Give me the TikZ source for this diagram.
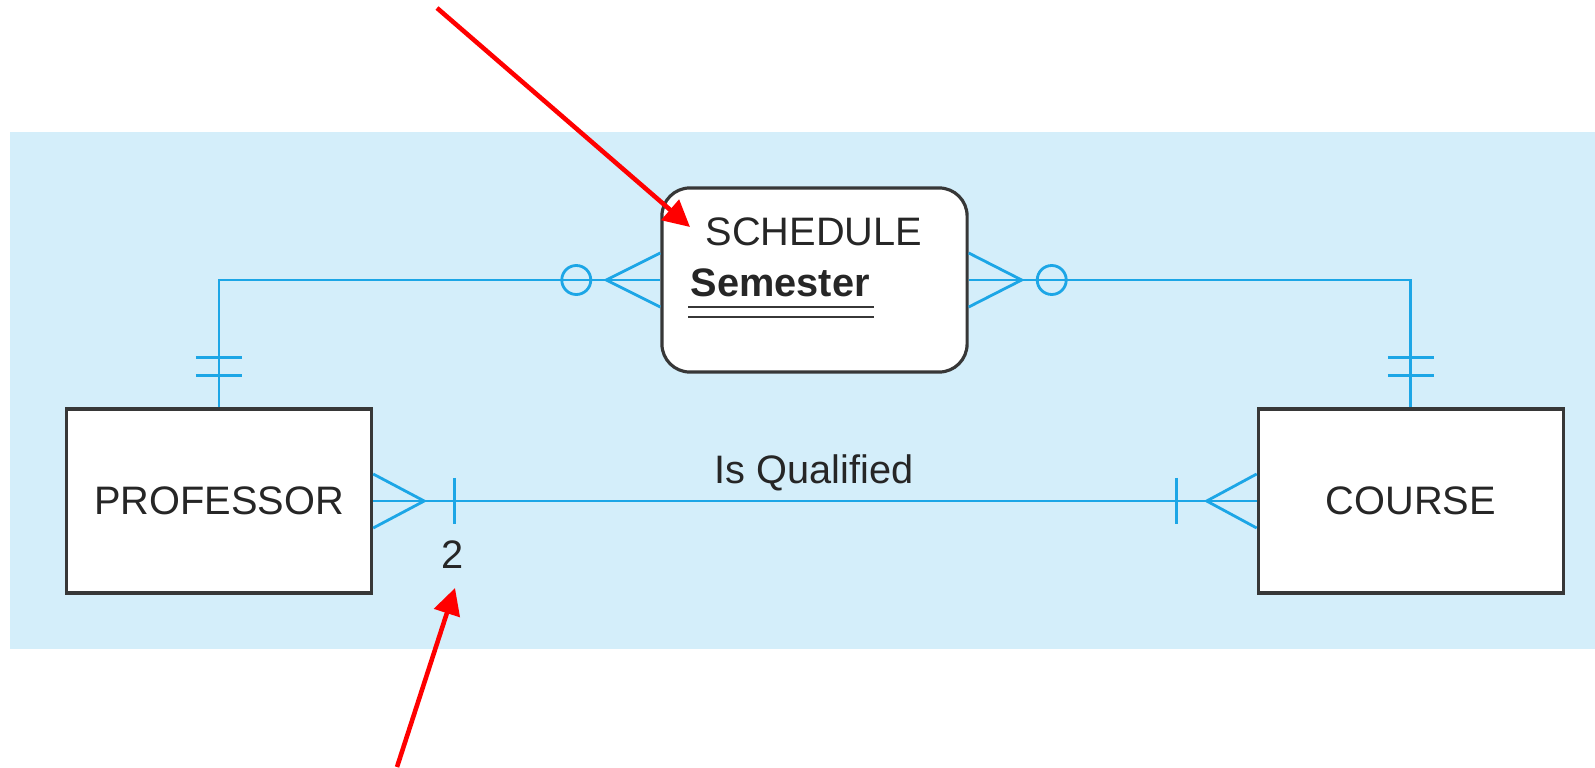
\documentclass[tikz,border=0pt]{standalone}
\usepackage{fontspec}
\setmainfont{Liberation Sans}
\usetikzlibrary{positioning,calc,arrows.meta}
\definecolor{panelblue}{RGB}{212,238,250}
\definecolor{erblue}{RGB}{28,166,230}
\definecolor{boxgray}{RGB}{55,55,55}
\definecolor{txtgray}{RGB}{38,38,38}
\tikzstyle{entity}=[draw=boxgray,fill=white,line width=0.9pt,minimum width=3.05cm,minimum height=1.84cm,inner sep=0pt,text=txtgray,font=\fontsize{11.3}{13}\selectfont]
\tikzstyle{erline}=[draw=erblue,line width=0.8pt]

\begin{document}
\begin{tikzpicture}[x=0.01cm,y=-0.01cm]
\tikzstyle{lbl}=[text=txtgray,font=\fontsize{11.3}{13}\selectfont,inner sep=0pt]
\tikzstyle{callout}=[draw=red,line width=1.3pt,-{Triangle[length=7.5pt,width=7.5pt]}]
\useasboundingbox (0,0) rectangle (1595,767);
\fill[panelblue] (10,132) rectangle (1595,649);

\node [entity] (prof) at (219,501) {PROFESSOR};
\node [entity, right=8.83cm of prof] (course) {COURSE};
\node [entity, rounded corners=0.28cm, minimum width=3.05cm, minimum height=1.84cm] (sched) at (814.5,280) {};
\node [lbl, anchor=base west] (schedname) at (705,245) {SCHEDULE};
\node [lbl, anchor=base west, font=\fontsize{11.3}{13}\selectfont\bfseries] (schedkey) at (690,296) {Semester};
\draw[boxgray, line width=0.8pt] ([xshift=-0.02cm,yshift=-0.11cm]schedkey.base west) -- ([xshift=0.04cm,yshift=-0.11cm]schedkey.base east);
\draw[boxgray, line width=0.8pt] ([xshift=-0.02cm,yshift=-0.21cm]schedkey.base west) -- ([xshift=0.04cm,yshift=-0.21cm]schedkey.base east);

% professor -- schedule
\draw[erline] (prof.north) |- (sched.west);
\draw[erline] ([xshift=-0.23cm,yshift=0.32cm]prof.north) -- ([xshift=0.23cm,yshift=0.32cm]prof.north);
\draw[erline] ([xshift=-0.23cm,yshift=0.5cm]prof.north) -- ([xshift=0.23cm,yshift=0.5cm]prof.north);
\coordinate (sv) at ([xshift=-0.54cm]sched.west);
\draw[erline] ([yshift=0.27cm]sched.west) -- (sv) -- ([yshift=-0.27cm]sched.west);
\draw[erline] ([xshift=-0.84cm]sched.west) circle (0.145cm);

% course -- schedule
\draw[erline] (course.north) |- (sched.east);
\draw[erline] ([xshift=-0.23cm,yshift=0.32cm]course.north) -- ([xshift=0.23cm,yshift=0.32cm]course.north);
\draw[erline] ([xshift=-0.23cm,yshift=0.5cm]course.north) -- ([xshift=0.23cm,yshift=0.5cm]course.north);
\coordinate (se) at ([xshift=0.53cm]sched.east);
\draw[erline] ([yshift=0.27cm]sched.east) -- (se) -- ([yshift=-0.27cm]sched.east);
\draw[erline] ([xshift=0.83cm]sched.east) circle (0.145cm);

% is qualified
\draw[erline] (prof.east) -- (course.west);
\coordinate (pv) at ([xshift=0.51cm]prof.east);
\draw[erline] ([yshift=0.27cm]prof.east) -- (pv) -- ([yshift=-0.27cm]prof.east);
\draw[erline] ([xshift=0.81cm,yshift=0.23cm]prof.east) -- ([xshift=0.81cm,yshift=-0.23cm]prof.east);
\coordinate (cv) at ([xshift=-0.5cm]course.west);
\draw[erline] ([yshift=0.27cm]course.west) -- (cv) -- ([yshift=-0.27cm]course.west);
\draw[erline] ([xshift=-0.8cm,yshift=0.23cm]course.west) -- ([xshift=-0.8cm,yshift=-0.23cm]course.west);
\node [lbl, anchor=base] (rel) at (814,483) {Is Qualified};
\node [lbl, anchor=base] (two) at (453,568) {2};

% callouts
\coordinate (tailA) at (437,8);
\coordinate (headA) at (690,227);
\coordinate (tailB) at (397,767);
\coordinate (headB) at (455,588);
\draw[callout] (tailA) -- (headA);
\draw[callout] (tailB) -- (headB);
%\draw[red] (headA) circle (0.05cm);
\end{tikzpicture}
\end{document}
